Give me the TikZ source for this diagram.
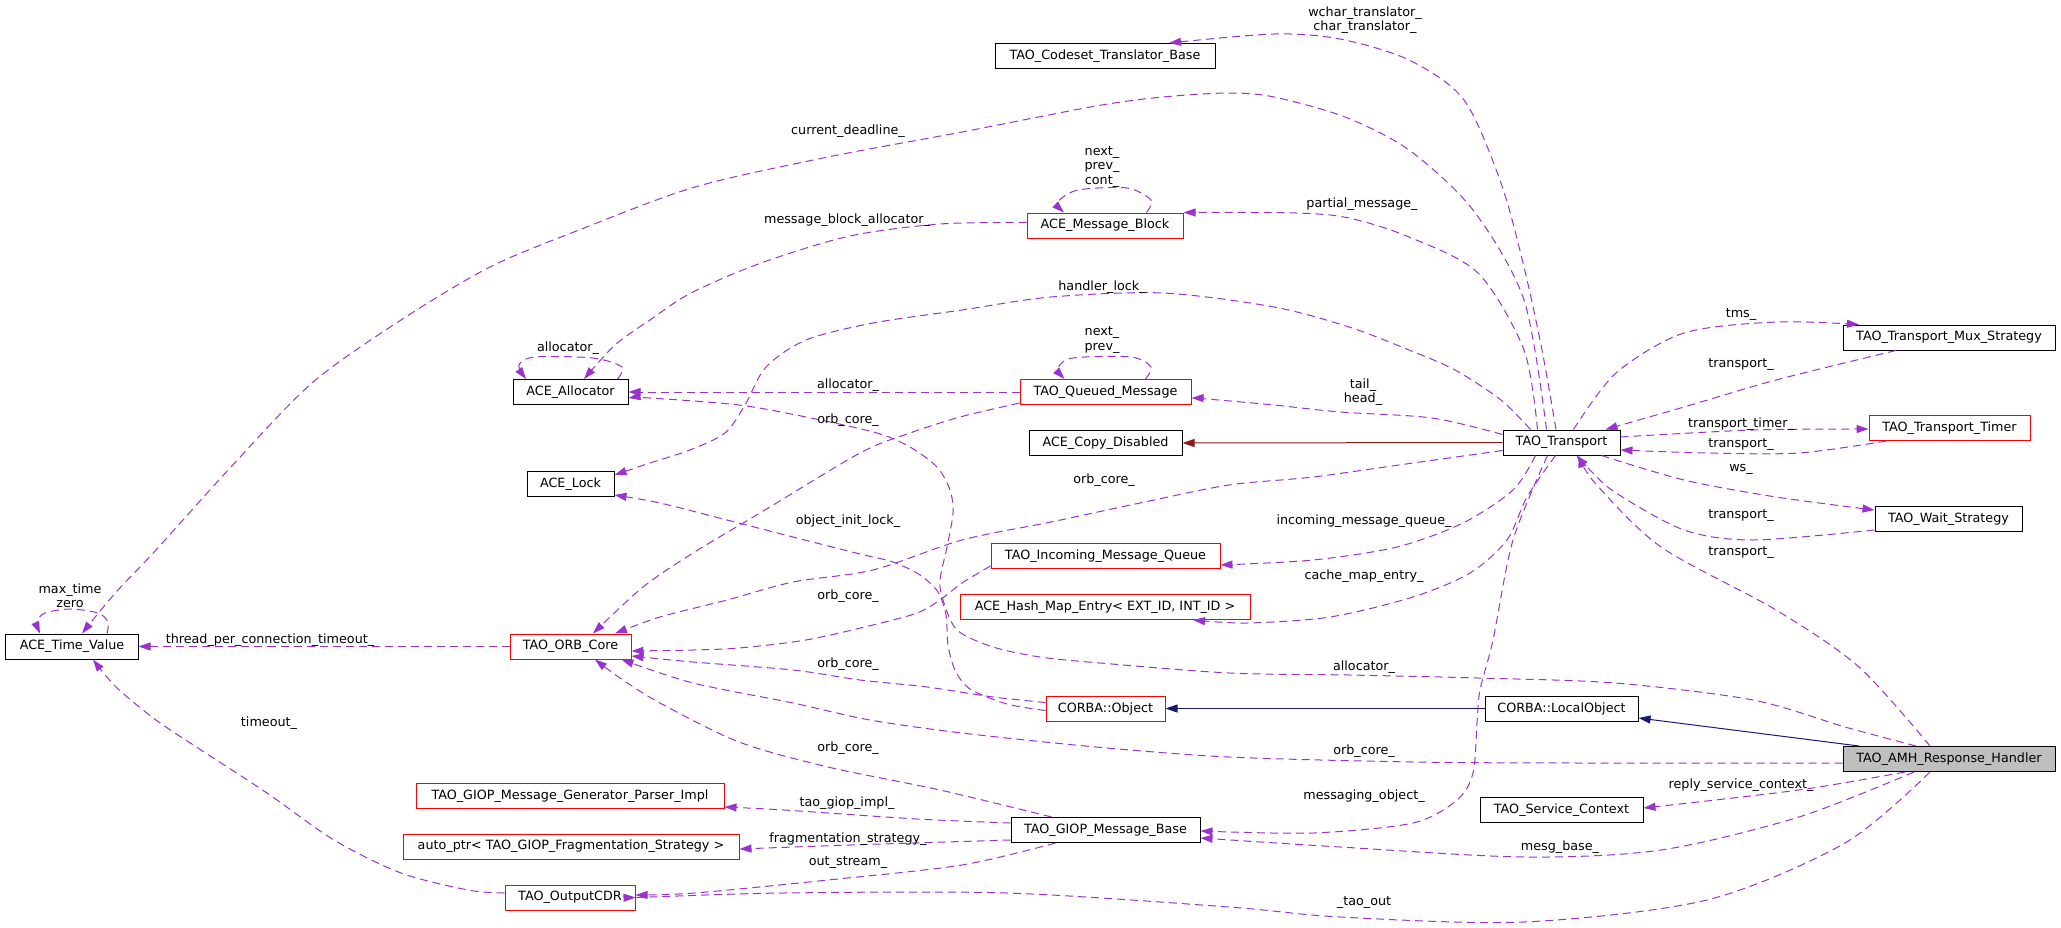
\documentclass[tikz,border=0pt]{standalone}
\usepackage{fontspec}
\setmainfont{DejaVu Sans}
\usepackage{tikz}
\usetikzlibrary{ arrows.meta, calc }
\definecolor{usecol}{HTML}{9A32CD}
\definecolor{pubcol}{HTML}{191970}
\definecolor{privcol}{HTML}{8B1A1A}
\tikzset{
>={Triangle[length=12bp,width=8bp]}, % filled arrow heads
every node/.style={inner sep=1pt, font=\fontsize{12.8}{14.5}\selectfont},
cls/.style={draw=black, line width=1bp, minimum height=25bp, inner sep=0pt}, % class box
redcls/.style={cls, draw=red}, % class box, not all members shown
focus/.style={cls, fill=black!25}, % the documented class
uses/.style={->, usecol, line width=1bp, dash pattern=on 8bp off 5bp}, % member edge
pub/.style={->, pubcol, line width=1bp}, % public base class
priv/.style={->, privcol, line width=1bp}, % private base class
lbl/.style={align=center},
}
\begin{document}
\begin{tikzpicture}[x=1bp, y=-1bp]
  \useasboundingbox (0,0) rectangle (2061,928);
  % classes
  \node[cls, minimum width=132bp] (tv) at (72,646.5) {ACE\_Time\_Value};
  \node[cls, minimum width=115bp] (alloc) at (570.5,392) {ACE\_Allocator};
  \node[cls, minimum width=87bp] (lock) at (570.5,484) {ACE\_Lock};
  \node[redcls, minimum width=121bp] (orb) at (570.5,646.5) {TAO\_ORB\_Core};
  \node[redcls, minimum width=308bp] (gen) at (570,796) {TAO\_GIOP\_Message\_Generator\_Parser\_Impl};
  \node[redcls, minimum width=336bp] (frag) at (571,846.5) {auto\_ptr< TAO\_GIOP\_Fragmentation\_Strategy >};
  \node[redcls, minimum width=130bp] (cdr) at (570,897.5) {TAO\_OutputCDR};
  \node[cls, minimum width=220bp] (ctb) at (1105,56) {TAO\_Codeset\_Translator\_Base};
  \node[redcls, minimum width=156bp] (mb) at (1105,225.5) {ACE\_Message\_Block};
  \node[redcls, minimum width=171bp] (qm) at (1105.5,392) {TAO\_Queued\_Message};
  \node[cls, minimum width=153bp] (cd) at (1105.5,443) {ACE\_Copy\_Disabled};
  \node[redcls, minimum width=229bp] (imq) at (1105.5,556) {TAO\_Incoming\_Message\_Queue};
  \node[redcls, minimum width=290bp] (hme) at (1105,607) {ACE\_Hash\_Map\_Entry< EXT\_ID, INT\_ID >};
  \node[redcls, minimum width=119bp] (obj) at (1105.5,708.5) {CORBA::Object};
  \node[cls, minimum width=189bp] (gmb) at (1105.5,830) {TAO\_GIOP\_Message\_Base};
  \node[cls, minimum width=117bp] (tr) at (1561.5,442.5) {TAO\_Transport};
  \node[cls, minimum width=153bp] (lo) at (1561.5,708.5) {CORBA::LocalObject};
  \node[cls, minimum width=163bp] (sc) at (1561.5,810) {TAO\_Service\_Context};
  \node[cls, minimum width=212bp] (mux) at (1949,337.5) {TAO\_Transport\_Mux\_Strategy};
  \node[redcls, minimum width=161bp] (tt) at (1949.5,428) {TAO\_Transport\_Timer};
  \node[cls, minimum width=147bp] (ws) at (1948.5,519) {TAO\_Wait\_Strategy};
  \node[focus, minimum width=212bp] (amh) at (1949,759) {TAO\_AMH\_Response\_Handler};

  % inheritance
  \draw[priv] (tr.west) -- (cd.east);
  \draw[pub] (lo.west) -- (obj.east);
  \draw[pub] ([xshift=-90bp]amh.north) -- ([yshift=-9.5bp]lo.east);

  % members of TAO_Transport
  \draw[uses] plot[smooth] coordinates {([xshift=-5.5bp]tr.north) (1542,350) (1524,267) (1501,183) (1464,100) (1409,60) (1340,39) (1274,34) ([xshift=64bp]ctb.north)};
  \draw[uses] plot[smooth] coordinates {([xshift=-15bp]tr.north) (1524,300) (1473,210) (1409,150) (1345,117) (1274,97) (1229,93) (1163,97) (1096,106) (962,132) (828,157) (695,187) (579,230) (490,267) (401,320) (312,383) (230,468) (156,550) (118,590) (96,616) ([xshift=10bp]tv.north)};
  \draw[uses] plot[smooth] coordinates {([xshift=-24bp]tr.north) (1524,350) (1478,273) (1409,237) (1349,218) (1296,213) (mb.north east)};
  \draw[uses] plot[smooth] coordinates {([xshift=-31bp]tr.north) (1501,400) (1455,370) (1409,350) (1349,327) (1274,307) (1163,293) (1051,297) (962,310) (873,323) (806,340) (766,367) (745,405) (725,433) (690,450) (650,463) ([yshift=9bp]lock.east)};
  \draw[uses] plot[smooth] coordinates {([yshift=8bp]tr.west) (1432,418) (1340,412) (1274,405) (1207,399) ([yshift=-6bp]qm.east)};
  \draw[uses] plot[smooth] coordinates {([yshift=-8bp]tr.west) (1413,463) (1313,477) (1229,485) (1140,503) (1051,522) (962,540) (873,570) (793,582) (727,600) (660,617) ([xshift=44.5bp]orb.north)};
  \draw[uses] plot[smooth] coordinates {([xshift=-26bp]tr.south) (1513,490) (1463,523) (1397,547) (1313,560) ([yshift=-9bp]imq.east)};
  \draw[uses] plot[smooth] coordinates {([xshift=-6bp]tr.south) (1527,497) (1507,540) (1470,573) (1413,597) (1330,617) (1247,623) ([xshift=88bp]hme.south)};
  \draw[uses] plot[smooth] coordinates {([xshift=-14bp]tr.south) (1513,540) (1493,640) (1480,690) (1477,723) (1473,773) (1457,800) (1413,823) (1313,833) ([yshift=-1bp]gmb.east)};
  \draw[uses] plot[smooth] coordinates {([xshift=12bp]tr.north) (1616,373) (1684,333) (1776,322) ([xshift=-90bp]mux.north)};
  \draw[uses] plot[smooth] coordinates {([yshift=5.5bp]tr.east) (1753,430) ([yshift=-1bp]tt.west)};
  \draw[uses] plot[smooth] coordinates {([xshift=40bp]tr.south) (1684,480) (1776,497) ([yshift=9bp]ws.west)};

  % back to TAO_Transport
  \draw[uses] plot[smooth] coordinates {([xshift=-53bp]mux.south) (1776,380) (1684,407) ([xshift=44bp]tr.north)};
  \draw[uses] plot[smooth] coordinates {([xshift=-63bp]tt.south) (1799,453) (1707,453) ([yshift=-7.5bp]tr.east)};
  \draw[uses] plot[smooth] coordinates {([yshift=-11bp]ws.west) (1753,540) (1684,530) (1616,493) (1590,470) ([xshift=15bp]tr.south)};
  \draw[uses] plot[smooth] coordinates {([xshift=-19bp]amh.north) (1859,667) (1776,610) (1661,547) (1595,483) ([xshift=17bp]tr.south)};

  % self references
  \draw[uses] plot[smooth] coordinates {([xshift=41.5bp]mb.north) (1151,200) (1127,188) (1078,190) (1058,202) ([xshift=-41bp]mb.north)};
  \draw[uses] plot[smooth] coordinates {([xshift=40bp]qm.north) (1151,367) (1131,357) (1073,358) (1058,368) ([xshift=-41bp]qm.north)};
  \draw[uses] plot[smooth] coordinates {([xshift=47bp]alloc.north) (622,367) (593,358) (535,357) (519,365) ([xshift=-44.5bp]alloc.north)};
  \draw[uses] plot[smooth] coordinates {([xshift=35bp]tv.north) (108,622) (98,613) (70,609) (45,613) (37,622) ([xshift=-32bp]tv.north)};

  % the rest
  \draw[uses] plot[smooth] coordinates {([yshift=3bp]mb.west) (940,224) (850,236) (761,263) (691,293) (650,320) (615,345) ([xshift=13.5bp]alloc.north)};
  \draw[uses] (qm.west) -- (alloc.east);
  \draw[uses] plot[smooth] coordinates {([yshift=-11bp]qm.west) (960,417) (910,433) (860,453) (760,513) (693,553) (643,587) ([xshift=22.5bp]orb.north)};
  \draw[uses] plot[smooth] coordinates {([yshift=-10bp]imq.west) (962,583) (940,600) (917,613) (873,625) (806,640) (739,648) (693,650) ([yshift=-4.5bp]orb.east)};
  \draw[uses] plot[smooth] coordinates {([yshift=-2bp]obj.west) (1007,704) (970,689) (955,670) (948,645) (946,615) (938,592) (920,575) (893,562) (860,554) (793,537) (727,520) (660,503) ([yshift=-11bp]lock.east)};
  \draw[uses] plot[smooth] coordinates {([yshift=6bp]obj.west) (993,697) (927,687) (860,680) (793,670) (693,662) ([yshift=-9.5bp]orb.east)};
  \draw[uses] plot[smooth] coordinates {([xshift=-33bp]amh.north) (1845,727) (1753,700) (1615,683) (1478,678) (1349,675) (1229,673) (1100,663) (1040,657) (993,647) (957,630) (943,600) (940,580) (947,547) (953,513) (950,490) (937,467) (910,447) (877,433) (806,417) (739,405) (650,398) ([yshift=-6bp]alloc.east)};
  \draw[uses] plot[smooth] coordinates {([yshift=-4bp]amh.west) (1580,763) (1413,762) (1229,757) (1096,747) (962,733) (870,720) (793,703) (693,683) ([xshift=-10bp]orb.south east)};
  \draw[uses] plot[smooth] coordinates {([xshift=-54bp]gmb.north) (940,790) (828,767) (739,742) (660,703) (620,678) ([xshift=24.5bp]orb.south)};
  \draw[uses] plot[smooth] coordinates {([yshift=7bp]gmb.west) (917,819) (784,810) ([yshift=-11bp]gen.east)};
  \draw[uses] plot[smooth] coordinates {([yshift=-10bp]gmb.west) (850,845) ([yshift=-2.5bp]frag.east)};
  \draw[uses] plot[smooth] coordinates {([xshift=-50bp]gmb.south) (962,865) (828,880) (695,893) ([yshift=2.5bp]cdr.east)};
  \draw[uses] plot[smooth] coordinates {([xshift=-44bp]amh.south) (1799,790) ([yshift=2bp]sc.east)};
  \draw[uses] plot[smooth] coordinates {([xshift=-35bp]amh.south) (1799,817) (1661,850) (1524,857) (1340,847) ([yshift=-8bp]gmb.east)};
  \draw[uses] plot[smooth] coordinates {([xshift=-19bp]amh.south) (1845,843) (1707,900) (1524,922) (1340,917) (1229,907) (1007,893) (784,893) (650,897) (cdr.east)};
  \draw[uses] plot[smooth] coordinates {([yshift=4.5bp]cdr.west) (468,890) (401,873) (334,840) (267,793) (201,750) (156,720) (116,687) ([xshift=21bp]tv.south)};
  \draw[uses] (orb.west) -- (tv.east);

  % edge labels
  \node[lbl] (l1) at (1365,20) {wchar\_translator\_\\char\_translator\_};
  \node[lbl] (l2) at (848,131) {current\_deadline\_};
  \node[lbl] (l3) at (1102,167) {next\_\\prev\_\\cont\_};
  \node[lbl] (l4) at (1362,204) {partial\_message\_};
  \node[lbl] (l5) at (847,220) {message\_block\_allocator\_};
  \node[lbl] (l6) at (1102,287) {handler\_lock\_};
  \node[lbl] (l7) at (568,348) {allocator\_};
  \node[lbl] (l8) at (1102,340) {next\_\\prev\_};
  \node[lbl] (l9) at (1741,315) {tms\_};
  \node[lbl] (l10) at (1741,365) {transport\_};
  \node[lbl] (l11) at (848,385) {allocator\_};
  \node[lbl] (l12) at (1363,392) {tail\_\\head\_};
  \node[lbl] (l13) at (848,420) {orb\_core\_};
  \node[lbl] (l14) at (1741,424) {transport\_timer\_};
  \node[lbl] (l15) at (1741,445) {transport\_};
  \node[lbl] (l16) at (1741,469) {ws\_};
  \node[lbl] (l17) at (1104,480) {orb\_core\_};
  \node[lbl] (l18) at (1741,516) {transport\_};
  \node[lbl] (l19) at (848,521) {object\_init\_lock\_};
  \node[lbl] (l20) at (1364,521) {incoming\_message\_queue\_};
  \node[lbl] (l21) at (1741,553) {transport\_};
  \node[lbl] (l22) at (1364,576) {cache\_map\_entry\_};
  \node[lbl] (l23) at (70,596) {max\_time\\zero};
  \node[lbl] (l24) at (848,596) {orb\_core\_};
  \node[lbl] (l25) at (270,640) {thread\_per\_connection\_timeout\_};
  \node[lbl] (l26) at (848,664) {orb\_core\_};
  \node[lbl] (l27) at (1364,667) {allocator\_};
  \node[lbl] (l28) at (269,723) {timeout\_};
  \node[lbl] (l29) at (848,748) {orb\_core\_};
  \node[lbl] (l30) at (1364,751) {orb\_core\_};
  \node[lbl] (l31) at (1741,785) {reply\_service\_context\_};
  \node[lbl] (l32) at (1364,796) {messaging\_object\_};
  \node[lbl] (l33) at (847,803) {tao\_giop\_impl\_};
  \node[lbl] (l34) at (848,839) {fragmentation\_strategy\_};
  \node[lbl] (l35) at (1560,847) {mesg\_base\_};
  \node[lbl] (l36) at (848,863) {out\_stream\_};
  \node[lbl] (l37) at (1364,903) {\_tao\_out};
\end{tikzpicture}
\end{document}
